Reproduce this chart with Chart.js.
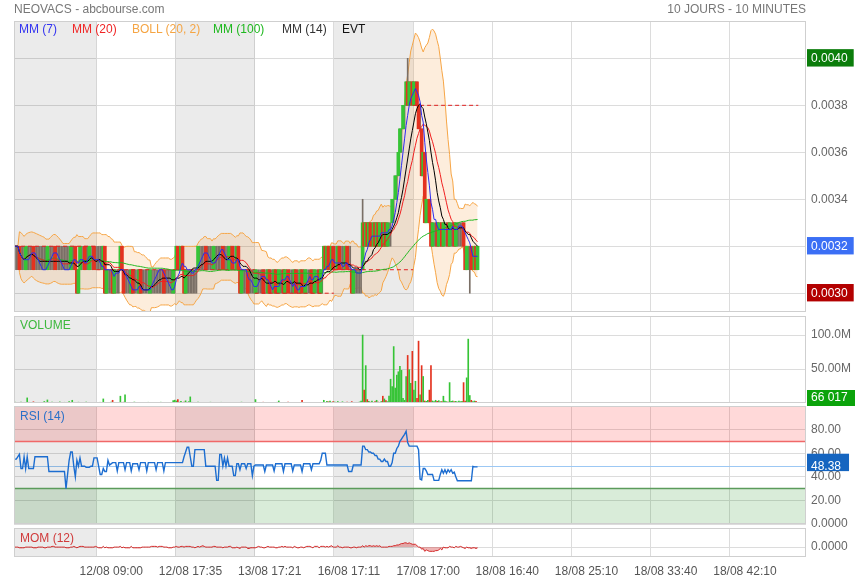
<!DOCTYPE html>
<html>
<head>
<meta charset="utf-8">
<title>NEOVACS</title>
<script src="https://cdn.jsdelivr.net/npm/chart.js@4.4.1/dist/chart.umd.min.js"></script>
<style>
  body { margin: 0; background: #fff; }
  #wrap { position: relative; width: 855px; height: 580px; overflow: hidden; font-family: Arial, "Liberation Sans", sans-serif; font-size: 12px; }
  #wrap canvas { position: absolute; left: 0; top: 0; }
  .lbl { position: absolute; line-height: 14px; white-space: nowrap; }
</style>
</head>
<body>
<div id="wrap">
  <canvas id="price" width="855" height="580"></canvas>
  <canvas id="volume" width="855" height="580"></canvas>
  <canvas id="rsi" width="855" height="580"></canvas>
  <canvas id="mom" width="855" height="580"></canvas>
  <div class="lbl" style="left:14px;top:2px;color:#777">NEOVACS - abcbourse.com</div>
  <div class="lbl" style="right:49px;top:2px;color:#777">10 JOURS - 10 MINUTES</div>
  <div class="lbl" style="left:19px;top:22px;color:#3434f0">MM (7)</div>
  <div class="lbl" style="left:72px;top:22px;color:#f02626">MM (20)</div>
  <div class="lbl" style="left:132px;top:22px;color:#f5a544">BOLL (20, 2)</div>
  <div class="lbl" style="left:213px;top:22px;color:#1fb81f">MM (100)</div>
  <div class="lbl" style="left:282px;top:22px;color:#333">MM (14)</div>
  <div class="lbl" style="left:342px;top:22px;color:#111">EVT</div>
  <div class="lbl" style="left:20px;top:318px;color:#3cb83c">VOLUME</div>
  <div class="lbl" style="left:20px;top:409px;color:#2a70c8">RSI (14)</div>
  <div class="lbl" style="left:20px;top:531px;color:#d03a3a">MOM (12)</div>
</div>
<script>
// prices in ticks of 0.0001, one value per 10 minute bar
const TICK = 0.0001;
const firstPrevClose = 32;
const close1108 = [32,32,32,31,31,31,31,32,32,32, 32,32,31,31,31,31,31,31,31,31,
  31,32,32,32,32,32,31,31,31,31, 31,31,31,31,31,31,32,32,32,31, 30,31,32,32,32,31,31,31,32,32, 32,31,31];
const close1208 = [31,31,31,31,32,30,31,31,31,31, 30,31,31,31,31,32,31,30,30,30,
  30,30,31,30,30,30,30,31,30,30, 30,30,30,30,31,31,31,31,31,31, 31,31,31,30,30,30,30,30,30,31, 31];
const close1308 = [32,31,31,32,31,30,31,31,31,31, 31,31,31,31,32,32,32,32,32,31,
  31,31,31,31,32,32,32,32,32,32, 31,31,31,31,32,32,31,31,31,32, 31,30,31,31,31,31,30,30,30,30, 30];
const close1608 = [31,31,31,31,31,30,30,30,31,30, 30,30,31,30,30,31,31,31,30,31,
  31,30,30,30,30,31,30,30,30,31, 30,30,31,31,31,31,30,30,31,31, 31,30,31,31,32,31,32,31,31,32, 31];
const close1708 = [31,31,32,31,31,31,31,32,31,31, 31,30,31,31,31,31,31,31,33,32,
  33,32,33,32,32,33,32,33,32,33, 33,32,33,32,33,33,33,34,34,35, 35,36,37,37,38,38,39,38,39,39, 38];
const close1808 = [39,39,38,37,37,35,36,33,34,34, 33,32,33,33,33,32,33,33,32,33,
  33,33,32,33,33,33,32,33,33,33, 33,33,32,31,32,32,32,31,31,32, 31,32];

// volumes in millions of shares
const vol1108 = [1.2,0.4,0.8,0.3,1.5,0.6,0.2,0.9,7.5,1.1, 0.5,0.3,1.8,0.4,0.7,0.2,1.0,0.6,0.3,2.2,
  0.8,4.5,0.4,0.6,1.3,0.3,0.5,0.9,0.2,1.6, 0.4,0.7,1.1,0.3,0.5,2.0,0.6,4.0,0.3,0.8, 0.5,1.2,0.4,0.2,0.9,0.6,1.4,0.3,0.7,0.5, 0.4,1.0,0.6];
const vol1208 = [0.8,0.5,1.1,0.3,6.0,0.7,0.4,0.9,0.2,1.3, 4.0,0.6,0.3,0.8,0.5,10,0.4,1.2,12,0.6,
  0.3,0.9,0.5,0.2,1.4,0.7,0.3,0.6,1.0,0.4, 0.5,0.8,0.2,1.1,0.6,0.3,0.7,0.4,0.9,0.5, 0.3,1.2,0.6,0.4,0.8,0.2,0.5,1.0,0.7,3.5, 4.2];
const vol1308 = [3.0,5.0,1.2,2.5,0.8,1.5,3.2,0.6,2.0,9.0, 1.1,0.5,0.9,0.3,1.4,0.7,0.4,1.0,0.6,0.2,
  0.8,0.5,1.2,0.3,0.7,0.4,0.9,0.6,0.3,1.1, 0.5,0.8,0.2,0.6,1.0,0.4,0.7,0.3,0.9,0.5, 0.6,0.4,1.3,0.3,0.8,0.5,0.2,0.7,1.0,0.4, 0.6];
const vol1608 = [5.0,0.6,0.3,0.9,0.5,1.2,0.4,0.7,0.2,1.0, 0.5,0.8,0.3,0.6,1.1,3.0,0.4,0.7,0.5,0.9,
  0.3,1.2,0.6,0.4,0.8,0.5,1.0,0.3,0.7,0.6, 4.0,0.4,0.9,0.5,0.3,1.1,0.6,0.8,0.4,0.7, 0.5,0.3,1.0,0.6,4.0,0.9,2.5,1.8,3.0,1.2, 2.0];
const vol1708 = [1.5,0.8,2.2,1.0,0.6,1.8,0.9,0.4,1.2,0.7, 1.0,2.0,0.5,1.1,0.8,0.6,1.5,3.0,100,19,
  55,5.0,2.5,1.2,3.0,0.8,2.0,4.0,1.5,0.9, 2.2,10,6.0,3.5,2.0,10,35,24,83,22, 41,46,54,48,7.0,4.0,39,70,49,29, 76];
const vol1808 = [19,32,7,91,12,55,39,3,2.5,4, 19,55,3,2,4,2.5,3.5,2,2,10,
  3,2,1.5,30,2.5,3,2,2.5,1.5,3, 2,2.5,30,3,37,94,11,4,2,3,2.5,0.066017];

// RSI (14)
const rsi1108 = [55,55,57,59,47,47,57,47,57,47, 47,47,47,57,57,57,57,57,57,57,
  57,57,44.5,44.5,44.5,44.5,44.5,44.5,44.5,44.5, 44.5,44.5,44.5,30,42,54,61,61,49,40, 54,49,56,49,49,49,48,48,48,49, 49,56,56];
const rsi1208 = [56,49,42,42,47,44.5,44.5,54,50,51, 52,52,52,45,52,52,52,52,46,52,
  52,52,45,51,51,51,51,46,52,52, 52,52,45,52,52,52,52,52,46,52, 52,52,52,45,52,52,52,52,52,52, 52];
const rsi1308 = [52,52,52,52,52,57,61,65,65,57, 49,49,63,63,63,63,63,63,63,49,
  49,49,49,49,49,49,37,37,59,59, 49,56,49,56,49,49,49,41,41,51, 51,46,51,51,51,47,51,51,51,41, 49];
const rsi1608 = [50,50,50,50,50,50,44.5,50,50,50, 50,50,45,51,51,51,51,51,44.5,51,
  51,51,51,51,45,50,50,50,50,50, 44.5,51,51,51,51,51,46,51,51,51, 51,51,54,60,60,60,50,50,50,50, 50];
const rsi1708 = [50,50,50,50,50,50,50,50,50,44.5, 44.5,44.5,50,50,50,50,50,50,66,66,
  63,63,61,61,60,60,58,58,55,55, 53,53,55,53,53,49,49,52,60,60, 64,66,70,72,74,76,78.6,69,66,66, 66];
const rsi1808 = [66,66,66,63,38,37.4,47,47,45,42, 42,42,42,37,37,37,37,42,46,43,
  46,43,46,44,46,43,44,40,36.6,36.6, 36.6,36.6,36.6,36.6,36.6,36.6,36.6,36.6,48.8,48.4, 48.4,48.38];

// wicks that reach beyond the bodies
const extraHighIdx = [224, 253];
const extraHighVal = [34, 40];
const extraLowIdx = [293];
const extraLowVal = [30];

const xTickIdx = [53, 104, 155, 206, 257, 308, 359, 410, 461];
const xTickLabels = ['12/08 09:00', '12/08 17:35', '13/08 17:21', '16/08 17:11', '17/08 17:00',
  '18/08 16:40', '18/08 25:10', '18/08 33:40', '18/08 42:10'];
const X_MAX = 510;
const priceTicks = [30, 32, 34, 36, 38, 40];
const volTicks = [50, 100];
const rsiTicks = [0, 20, 40, 60, 80];
const rsiHigh = 70, rsiLow = 30;

const dayCloses = [close1108, close1208, close1308, close1608, close1708, close1808];
const closes = [].concat(...dayCloses);
const volumes = [].concat(vol1108, vol1208, vol1308, vol1608, vol1708, vol1808);
const rsiVals = [].concat(rsi1108, rsi1208, rsi1308, rsi1608, rsi1708, rsi1808);
const n = closes.length;
const dayStart = [];
dayCloses.reduce((s, d) => { dayStart.push(s); return s + d.length; }, 0);

// candles
const opens = closes.map((c, i) => i === 0 ? firstPrevClose : closes[i - 1]);
const highs = [], lows = [];
closes.forEach((c, i) => {
  const o = opens[i];
  let lo = Math.min(o, c), hi = Math.max(o, c);
  if (o === c) {
    let j = i - 1;
    while (j >= 0 && closes[j] === c) j--;
    const other = j >= 0 ? closes[j] : c - 1;
    if (other > c) hi = c + 1; else lo = c - 1;
  }
  highs.push(hi); lows.push(lo);
});
extraHighIdx.forEach((k, j) => { highs[k] = Math.max(highs[k], extraHighVal[j]); });
extraLowIdx.forEach((k, j) => { lows[k] = Math.min(lows[k], extraLowVal[j]); });

// moving averages, bollinger, momentum
function sma(src, len) {
  return src.map((_, i) => {
    const w = src.slice(Math.max(0, i - len + 1), i + 1);
    return w.reduce((a, b) => a + b, 0) / w.length;
  });
}
function stdev(src, len, mean) {
  return src.map((_, i) => {
    const w = src.slice(Math.max(0, i - len + 1), i + 1);
    return Math.sqrt(w.reduce((a, b) => a + (b - mean[i]) ** 2, 0) / w.length);
  });
}
const mm7 = sma(closes, 7), mm14 = sma(closes, 14), mm20 = sma(closes, 20), mm100 = sma(closes, 100);
const sd20 = stdev(closes, 20, mm20);
const bollUp = mm20.map((m, i) => m + 2 * sd20[i]);
const bollDn = mm20.map((m, i) => m - 2 * sd20[i]);
const rsiLast = rsiVals[rsiVals.length - 1];
const mom = closes.map((c, i) => c - closes[Math.max(0, i - 12)]);

const pts = arr => arr.map((v, i) => ({ x: i + 0.5, y: v }));
const UP = '#36c436', DOWN = '#e4321f';

Chart.defaults.font.family = 'Arial, "Liberation Sans", sans-serif';
Chart.defaults.font.size = 12;
Chart.defaults.color = '#666';
Chart.defaults.animation = false;

function xAxis(showLabels) {
  return {
    type: 'linear', min: 0, max: X_MAX, offset: false,
    afterBuildTicks: s => { s.ticks = xTickIdx.map(v => ({ value: v })); },
    afterFit: s => { s.height = showLabels ? 23 : 0; },
    grid: { color: '#dcdcdc', drawTicks: false, offset: false },
    border: { display: false },
    ticks: {
      display: showLabels, autoSkip: false, maxRotation: 0, padding: 7, labelOffset: 15, color: '#555',
      callback: (v, i) => xTickLabels[i]
    }
  };
}
function yAxis(min, max, ticks, fmt, extra) {
  return Object.assign({
    position: 'right', min: min, max: max,
    afterBuildTicks: s => { s.ticks = ticks.map(v => ({ value: v })); },
    afterFit: s => { s.width = 49; },
    grid: { color: '#dcdcdc', drawTicks: false },
    border: { display: false },
    ticks: { padding: 5, crossAlign: 'near', autoSkip: false, callback: fmt }
  }, extra || {});
}

// gray day bands, rsi zones and panel border
function deco(zones) {
  return {
    id: 'deco',
    beforeDatasetsDraw(chart) {
      const { ctx, chartArea: a, scales: { x, y } } = chart;
      ctx.save();
      if (zones) {
        ctx.fillStyle = 'rgba(255,0,0,0.15)';
        const yh = y.getPixelForValue(rsiHigh), yl = y.getPixelForValue(rsiLow);
        ctx.fillRect(a.left, a.top, a.right - a.left, yh - a.top);
        ctx.fillStyle = 'rgba(0,128,0,0.15)';
        ctx.fillRect(a.left, yl, a.right - a.left, a.bottom - yl);
      }
      ctx.fillStyle = 'rgba(0,0,0,0.08)';
      for (let d = 0; d < dayStart.length; d += 2) {
        const x0 = x.getPixelForValue(dayStart[d]);
        const x1 = x.getPixelForValue(d + 1 < dayStart.length ? dayStart[d + 1] : n);
        ctx.fillRect(x0, a.top, x1 - x0, a.bottom - a.top);
      }
      if (zones) {
        ctx.lineWidth = 1.5;
        ctx.strokeStyle = '#f06868';
        const yh = y.getPixelForValue(rsiHigh), yl = y.getPixelForValue(rsiLow);
        ctx.beginPath(); ctx.moveTo(a.left, yh); ctx.lineTo(a.right, yh); ctx.stroke();
        ctx.strokeStyle = '#5b9b5b';
        ctx.beginPath(); ctx.moveTo(a.left, yl); ctx.lineTo(a.right, yl); ctx.stroke();
      }
      ctx.restore();
    },
    afterDraw(chart) {
      const { ctx, chartArea: a } = chart;
      ctx.save();
      ctx.strokeStyle = '#cfcfcf';
      ctx.lineWidth = 1;
      ctx.strokeRect(a.left + 0.5, a.top + 0.5, a.right - a.left - 1, a.bottom - a.top - 1);
      ctx.restore();
    }
  };
}
const common = (top, bottom) => ({
  responsive: false, events: [],
  layout: { padding: { left: 14, right: 0, top: top, bottom: bottom } },
  plugins: { legend: { display: false }, tooltip: { enabled: false } }
});

// price panel
const maxHigh = Math.max(...highs), minLow = Math.min(...lows), lastClose = closes[n - 1];
const priceBox = v => v === maxHigh ? '#0b7d0b' : v === lastClose ? '#3b6ff5' : v === minLow ? '#b30000' : null;
const bodyIdx = closes.map((c, i) => i).filter(i => opens[i] !== closes[i]);
const line = (data, color, order) => ({
  type: 'line', data: pts(data), borderColor: color, borderWidth: 1, pointRadius: 0, order: order
});
const refLines = dayStart.map((s, d) => ({
  type: 'line', order: 6, borderColor: '#e02020', borderWidth: 1, borderDash: [4, 3], pointRadius: 0,
  data: [
    { x: s, y: d === 0 ? firstPrevClose : closes[s - 1] },
    { x: d + 1 < dayStart.length ? dayStart[d + 1] : n, y: d === 0 ? firstPrevClose : closes[s - 1] }
  ]
}));

new Chart(document.getElementById('price'), {
  type: 'bar',
  data: {
    datasets: [
      line(mm7, '#2b2bf0', 2),
      line(mm14, '#000000', 3),
      line(mm20, '#f02020', 4),
      line(mm100, '#20b820', 5),
      ...refLines,
      {
        type: 'bar', order: 7, grouped: false, barThickness: 3,
        data: bodyIdx.map(i => ({ x: i + 0.5, y: [opens[i], closes[i]] })),
        backgroundColor: bodyIdx.map(i => closes[i] > opens[i] ? UP : DOWN)
      },
      {
        type: 'bar', order: 8, grouped: false, barThickness: 1,
        data: closes.map((c, i) => ({ x: i + 0.5, y: [lows[i], highs[i]] })),
        backgroundColor: '#7a6f66'
      },
      { type: 'line', order: 10, data: pts(bollUp), borderColor: '#f6a545', borderWidth: 1, pointRadius: 0 },
      {
        type: 'line', order: 10, data: pts(bollDn), borderColor: '#f6a545', borderWidth: 1, pointRadius: 0,
        fill: '-1', backgroundColor: 'rgba(245,155,60,0.18)'
      }
    ]
  },
  options: Object.assign(common(21, 268), {
    scales: {
      x: xAxis(false),
      y: yAxis(29.2, 41.59, priceTicks, v => (v * TICK).toFixed(4), {
        ticks: {
          padding: 5, crossAlign: 'near', autoSkip: false,
          callback: v => (v * TICK).toFixed(4),
          color: c => priceBox(c.tick.value) ? '#fff' : '#666',
          showLabelBackdrop: c => !!priceBox(c.tick.value),
          backdropColor: c => priceBox(c.tick.value) || 'rgba(0,0,0,0)',
          backdropPadding: { left: 4, right: 6, top: 2, bottom: 1 }
        }
      })
    }
  }),
  plugins: [deco(false)]
});

// volume panel
const fmtVol = v => Math.round(v * 1e6).toString().replace(/\B(?=(\d{3})+(?!\d))/g, ' ');
new Chart(document.getElementById('volume'), {
  type: 'bar',
  data: {
    datasets: [{
      grouped: false, barThickness: 1,
      data: volumes.map((v, i) => ({ x: i + 0.5, y: v })),
      backgroundColor: volumes.map((v, i) => closes[i] < opens[i] ? DOWN : UP)
    }]
  },
  options: Object.assign(common(316, 177), {
    scales: {
      x: xAxis(false),
      y: yAxis(0, 128, volTicks, v => v.toPrecision(4) + 'M')
    }
  }),
  plugins: [deco(false), {
    id: 'lastVol',
    afterDraw(chart) {
      const { ctx, chartArea: a, scales: { y } } = chart;
      const yy = Math.min(y.getPixelForValue(volumes[n - 1]), a.bottom - 5);
      ctx.save();
      ctx.fillStyle = '#0ba30b';
      ctx.fillRect(a.right + 1, yy - 8, 48, 16);
      ctx.fillStyle = '#fff';
      ctx.textBaseline = 'middle';
      ctx.font = '12px Arial, "Liberation Sans", sans-serif';
      ctx.fillText(fmtVol(volumes[n - 1]), a.right + 5, yy);
      ctx.restore();
    }
  }]
});

// RSI panel
const fmtOsc = v => v === 0 ? '0.0000' : v.toPrecision(4);
new Chart(document.getElementById('rsi'), {
  type: 'line',
  data: {
    datasets: [{ data: pts(rsiVals), borderColor: '#1c6dd0', borderWidth: 1.4, pointRadius: 0 }]
  },
  options: Object.assign(common(406, 56), {
    scales: {
      x: xAxis(false),
      y: yAxis(0, 100, rsiTicks.concat([rsiLast]), fmtOsc, {
        grid: { drawTicks: false, color: c => c.tick && c.tick.value === rsiLast ? '#9cc8f4' : '#dcdcdc' },
        ticks: {
          padding: 5, crossAlign: 'near', autoSkip: false, callback: fmtOsc,
          color: c => c.tick.value === rsiLast ? '#fff' : '#666',
          showLabelBackdrop: c => c.tick.value === rsiLast,
          backdropColor: c => c.tick.value === rsiLast ? '#1565c0' : 'rgba(0,0,0,0)',
          backdropPadding: { left: 4, right: 8, top: 6, bottom: -3 }
        }
      })
    }
  }),
  plugins: [deco(true)]
});

// MOM panel
new Chart(document.getElementById('mom'), {
  type: 'line',
  data: {
    datasets: [{
      data: pts(mom), borderColor: '#d42a2a', borderWidth: 1, pointRadius: 0,
      fill: { target: 'origin', above: 'rgba(205,40,40,0.35)', below: 'rgba(205,40,40,0.35)' }
    }]
  },
  options: Object.assign(common(528, 0), {
    scales: {
      x: xAxis(true),
      y: yAxis(-14, 27, [0], fmtOsc)
    }
  }),
  plugins: [deco(false)]
});
</script>
</body>
</html>
